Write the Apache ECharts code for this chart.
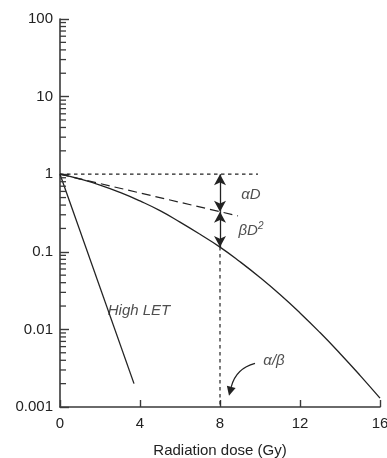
<!DOCTYPE html>
<html>
<head>
<meta charset="utf-8">
<script src="https://cdn.jsdelivr.net/npm/echarts@6/dist/echarts.min.js"></script>
<style>
html,body{margin:0;padding:0;background:#fff;}
#c{width:387px;height:458px;}
</style>
</head>
<body>
<div id="c"></div>
<script>
// ---- data ----
var xTicks = [0, 4, 8, 12, 16];
var yTickLabels = ['0.001', '0.01', '0.1', '1', '10', '100'];
var yTickValues = [0.001, 0.01, 0.1, 1, 10, 100];

// linear-quadratic survival curve (dose Gy, surviving fraction)
var lqDose = [0, 1, 2, 3, 4, 5, 6, 7, 8, 9, 10, 11, 12, 13, 14, 15, 16];
var lqSurv = [1, 0.866, 0.724, 0.583, 0.452, 0.339, 0.241, 0.168, 0.115, 0.0745, 0.0466, 0.0281, 0.0163, 0.0091, 0.0049, 0.00256, 0.0013];

// high LET straight line
var letDose = [0, 3.7];
var letSurv = [1, 0.002];

// alpha-component (dashed) line
var alphaDose = [0, 8.9];
var alphaSurv = [1, 0.29];

// reference lines
var hRefDose = [0, 9.9];
var hRefSurv = [1, 1];
var vRefDose = [8, 8];
var vRefSurv = [0.115, 0.001];

// arrows at D = 8
var arrowDose = 8;
var arrowLevels = [1, 0.327, 0.115];

// curved pointer for alpha/beta: start, control, tip
var pointerDose = [9.75, 8.8, 8.45];
var pointerSurv = [0.00364, 0.00314, 0.0014];

function pairs(xs, ys) { return xs.map(function (x, i) { return [x, ys[i]]; }); }

var minorTicks = [];
for (var e = -3; e < 2; e++) {
  for (var m = 2; m <= 9; m++) minorTicks.push([0, m * Math.pow(10, e)]);
}

var INK = '#222';
var AX = '#3a3a3a';
var FONT = 'Liberation Sans, Arial, sans-serif';

var chart = echarts.init(document.getElementById('c'), null, {renderer: 'canvas'});
chart.setOption({
  animation: false,
  backgroundColor: '#fff',
  grid: {left: 60, right: 7, top: 19, bottom: 51, containLabel: false, outerBoundsMode: 'none'},
  xAxis: {
    type: 'value', min: 0, max: 16, interval: 4,
    name: 'Radiation dose (Gy)', nameLocation: 'middle', nameGap: 36,
    nameTextStyle: {color: '#222', fontSize: 15, fontFamily: FONT},
    axisLine: {show: true, lineStyle: {color: AX, width: 1.6}},
    axisTick: {show: true, inside: true, length: 7, lineStyle: {color: AX, width: 1.4}},
    axisLabel: {color: '#222', fontSize: 15, fontFamily: FONT, margin: 9},
    splitLine: {show: false}
  },
  yAxis: {
    type: 'log', logBase: 10, min: 0.001, max: 100,
    axisLine: {show: true, onZero: false, lineStyle: {color: AX, width: 1.6}},
    axisTick: {show: true, inside: true, length: 9, lineStyle: {color: AX, width: 1.4}},
    axisLabel: {
      color: '#222', fontSize: 15, fontFamily: FONT, margin: 7,
      formatter: function (v) {
        for (var i = 0; i < yTickValues.length; i++) {
          if (Math.abs(Math.log10(v) - Math.log10(yTickValues[i])) < 1e-6) return yTickLabels[i];
        }
        return '';
      }
    },
    splitLine: {show: false}
  },
  series: [
    {
      type: 'custom', name: 'minorTicks', silent: true, clip: false, z: 5,
      data: minorTicks,
      renderItem: function (params, api) {
        var p = api.coord([api.value(0), api.value(1)]);
        return {type: 'line', shape: {x1: p[0], y1: p[1], x2: p[0] + 6, y2: p[1]},
                style: {stroke: AX, lineWidth: 1.3}};
      }
    },
    {
      type: 'line', name: 'LQ', data: pairs(lqDose, lqSurv), smooth: true,
      showSymbol: false, symbol: 'none', lineStyle: {color: INK, width: 1.3}
    },
    {
      type: 'line', name: 'High LET', data: pairs(letDose, letSurv),
      showSymbol: false, symbol: 'none', lineStyle: {color: INK, width: 1.3}
    },
    {
      type: 'line', name: 'alpha', data: pairs(alphaDose, alphaSurv),
      showSymbol: false, symbol: 'none', lineStyle: {color: INK, width: 1.2, type: [9, 5]}
    },
    {
      type: 'line', name: 'href', data: pairs(hRefDose, hRefSurv),
      showSymbol: false, symbol: 'none', lineStyle: {color: INK, width: 1.2, type: [3.5, 3.5]}
    },
    {
      type: 'line', name: 'vref', data: pairs(vRefDose, vRefSurv),
      showSymbol: false, symbol: 'none', lineStyle: {color: INK, width: 1.2, type: [3.5, 3.5]},
      markLine: {
        silent: true, symbol: ['arrow', 'arrow'], symbolSize: [9, 11],
        label: {show: false},
        lineStyle: {color: INK, width: 1.3, type: 'solid'},
        itemStyle: {color: INK},
        data: [
          [{coord: [arrowDose, arrowLevels[0]]}, {coord: [arrowDose, arrowLevels[1]]}],
          [{coord: [arrowDose, arrowLevels[1]]}, {coord: [arrowDose, arrowLevels[2]]}]
        ]
      }
    },
    {
      type: 'custom', name: 'pointer', silent: true, clip: false, z: 6,
      encode: {x: [0, 2, 4], y: [1, 3, 5]},
      data: [[pointerDose[0], pointerSurv[0], pointerDose[1], pointerSurv[1], pointerDose[2], pointerSurv[2]]],
      renderItem: function (params, api) {
        var a = api.coord([api.value(0), api.value(1)]);
        var c = api.coord([api.value(2), api.value(3)]);
        var b = api.coord([api.value(4), api.value(5)]);
        var dx = b[0] - c[0], dy = b[1] - c[1];
        var L = Math.sqrt(dx * dx + dy * dy); dx /= L; dy /= L;
        var hl = 9, hw = 4.5;
        var bx = b[0] - dx * hl, by = b[1] - dy * hl;
        return {
          type: 'group',
          children: [
            {type: 'bezierCurve', shape: {x1: a[0], y1: a[1], cpx1: c[0], cpy1: c[1], x2: bx, y2: by},
             style: {stroke: INK, lineWidth: 1.3, fill: null}},
            {type: 'polygon', shape: {points: [[b[0], b[1]], [bx - dy * hw, by + dx * hw], [bx + dy * hw, by - dx * hw]]},
             style: {fill: INK}}
          ]
        };
      }
    },
    {
      type: 'scatter', name: 'labels', symbolSize: 0, silent: true, z: 10,
      data: [
        {value: [9.55, 0.55], name: 'αD'},
        {value: [9.55, 0.185], name: 'βD2'},
        {value: [3.95, 0.0176], name: 'High LET'},
        {value: [10.7, 0.0039], name: 'α/β'}
      ],
      label: {
        show: true, position: 'inside', color: '#222', fontSize: 15, fontFamily: FONT,
        fontStyle: 'italic',
        formatter: function (p) {
          if (p.name === 'βD2') return '{a|βD}{s|2}';
          return '{a|' + p.name + '}';
        },
        rich: {
          a: {fontSize: 15, fontStyle: 'italic', fontFamily: FONT, color: '#222'},
          s: {fontSize: 10, fontFamily: FONT, color: '#222', padding: [0, 0, 9, 0]}
        }
      }
    }
  ]
});
</script>
</body>
</html>
